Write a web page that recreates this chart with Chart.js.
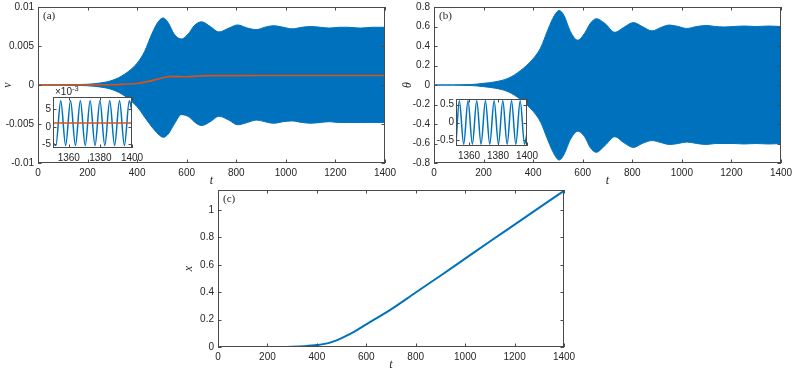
<!DOCTYPE html>
<html>
<head>
<meta charset="utf-8">
<script src="https://cdn.jsdelivr.net/npm/chart.js@4.4.0/dist/chart.umd.min.js"></script>
<style>
  html, body { margin: 0; padding: 0; background: #fff; }
  #wrap { position: relative; width: 793px; height: 375px; overflow: hidden; }
  canvas { position: absolute; }
</style>
</head>
<body>
<div id="wrap">
  <canvas id="cA"></canvas>
  <canvas id="cB"></canvas>
  <canvas id="cC"></canvas>
  <canvas id="iA"></canvas>
  <canvas id="iB"></canvas>
</div>
<script>
// ─── Data ───────────────────────────────────────────────────────────────────
// (a) envelope of the fast oscillation of v, and its slow mean (orange)
const tA     = [0, 150, 200, 250, 300, 350, 400, 430, 460, 485, 505, 525, 550, 578, 610, 630, 660, 695, 730, 770, 805, 845, 880, 915, 950, 990, 1025, 1065, 1100, 1140, 1175, 1215, 1250, 1300, 1350, 1400];
const vUpper = [0, 0.00005, 0.0001, 0.00025, 0.0006, 0.0014, 0.0028, 0.0043, 0.0066, 0.0081, 0.0086, 0.0080, 0.0065, 0.0059, 0.0067, 0.0076, 0.0081, 0.0075, 0.0068, 0.0073, 0.0077, 0.0073, 0.0071, 0.0074, 0.0076, 0.0074, 0.0072, 0.0074, 0.0075, 0.0074, 0.0073, 0.0074, 0.0074, 0.0073, 0.0074, 0.0074];
const vLower = [0, -0.00005, -0.0001, -0.00025, -0.0006, -0.0014, -0.0028, -0.0041, -0.0054, -0.0063, -0.0067, -0.0063, -0.0050, -0.0038, -0.0041, -0.0047, -0.0052, -0.0047, -0.0040, -0.0045, -0.0051, -0.0048, -0.0045, -0.0047, -0.0049, -0.0047, -0.0046, -0.0048, -0.0049, -0.0048, -0.0047, -0.0048, -0.0048, -0.0048, -0.0048, -0.0048];
const tMean  = [0, 300, 350, 400, 450, 500, 540, 600, 650, 700, 800, 1000, 1400];
const vMean  = [0, 0.00003, 0.0001, 0.0002, 0.0005, 0.0009, 0.0011, 0.00105, 0.00115, 0.0012, 0.0012, 0.00122, 0.00122];

// (b) envelope of theta
const tB         = [0, 150, 200, 250, 300, 350, 400, 430, 460, 485, 505, 525, 550, 580, 610, 630, 655, 690, 730, 765, 805, 840, 880, 915, 950, 985, 1020, 1060, 1100, 1135, 1170, 1210, 1250, 1300, 1350, 1400];
const thetaUpper = [0, 0.005, 0.017, 0.034, 0.07, 0.15, 0.27, 0.38, 0.57, 0.71, 0.765, 0.71, 0.55, 0.46, 0.54, 0.63, 0.68, 0.63, 0.54, 0.59, 0.64, 0.60, 0.555, 0.59, 0.615, 0.60, 0.58, 0.60, 0.61, 0.60, 0.595, 0.60, 0.605, 0.60, 0.605, 0.60];
const thetaLower = [0, -0.005, -0.017, -0.034, -0.07, -0.15, -0.27, -0.38, -0.57, -0.71, -0.77, -0.71, -0.56, -0.475, -0.54, -0.64, -0.69, -0.62, -0.53, -0.59, -0.64, -0.60, -0.57, -0.59, -0.61, -0.60, -0.585, -0.60, -0.61, -0.60, -0.60, -0.60, -0.605, -0.60, -0.605, -0.60];

// (c) position x(t)
const tC   = [0, 250, 300, 350, 400, 450, 500, 550, 600, 700, 800, 900, 1000, 1100, 1200, 1300, 1400];
const xPos = [0, 0.0005, 0.002, 0.006, 0.014, 0.03, 0.065, 0.11, 0.165, 0.275, 0.398, 0.52, 0.645, 0.77, 0.893, 1.017, 1.14];

// insets: troughs and peaks of the last cycles (v in units of 1e-3)
const insetAT    = [1350, 1351.8, 1354.9, 1358.0, 1361.1, 1364.2, 1367.3, 1370.4, 1373.5, 1376.6, 1379.7, 1382.8, 1385.9, 1389.0, 1392.1, 1395.2, 1398.3, 1400];
const insetAV    = [-4.5, -5.3, 7.4, -5.3, 7.4, -5.3, 7.4, -5.3, 7.4, -5.3, 7.4, -5.3, 7.4, -5.3, 7.4, -5.3, 7.4, 4.5];
const insetAMeanT = [1350, 1400];
const insetAMean  = [1.1, 1.1];
const insetBT    = [1351, 1353.3, 1356.3, 1359.3, 1362.3, 1365.3, 1368.3, 1371.3, 1374.3, 1377.3, 1380.3, 1383.3, 1386.3, 1389.3, 1392.3, 1395.3, 1398.3, 1400];
const insetBV    = [-0.58, 0.61, -0.61, 0.61, -0.61, 0.61, -0.61, 0.61, -0.61, 0.61, -0.61, 0.61, -0.61, 0.61, -0.61, 0.61, -0.61, -0.3];

// ticks
const tTicks = [0, 200, 400, 600, 800, 1000, 1200, 1400];
const tTickLabels = ['0', '200', '400', '600', '800', '1000', '1200', '1400'];
const vTicks = [-0.01, -0.005, 0, 0.005, 0.01];
const vTickLabels = ['-0.01', '-0.005', '0', '0.005', '0.01'];
const thetaTicks = [-0.8, -0.6, -0.4, -0.2, 0, 0.2, 0.4, 0.6, 0.8];
const thetaTickLabels = ['-0.8', '-0.6', '-0.4', '-0.2', '0', '0.2', '0.4', '0.6', '0.8'];
const xTicks = [0, 0.2, 0.4, 0.6, 0.8, 1];
const xTickLabels = ['0', '0.2', '0.4', '0.6', '0.8', '1'];
const insetTTicks = [1360, 1380, 1400];
const insetTTickLabels = ['1360', '1380', '1400'];
const insetVTicks = [-5, 0, 5];
const insetVTickLabels = ['-5', '0', '5'];
const insetThetaTicks = [-0.5, 0, 0.5];
const insetThetaTickLabels = ['-0.5', '0', '0.5'];

// ─── Style ──────────────────────────────────────────────────────────────────
const BLUE = '#0072BD', ORANGE = '#D95319', INK = '#262626', AXIS = '#4a4a4a';
Chart.defaults.font.family = '"Liberation Sans", Arial, sans-serif';
Chart.defaults.font.size = 10;
Chart.defaults.color = INK;

const pts = (xs, ys) => xs.map((x, i) => ({ x, y: ys[i] }));

// box, inward ticks on all four sides, panel letter and axis titles
function matlabBox(cfg) {
  return {
    id: 'matlabBox',
    beforeDraw(chart) {
      if (!cfg.white) return;
      const a = chart.chartArea, ctx = chart.ctx;
      ctx.save(); ctx.fillStyle = '#fff';
      ctx.fillRect(a.left, a.top, a.right - a.left, a.bottom - a.top);
      ctx.restore();
    },
    afterDraw(chart) {
      const a = chart.chartArea, ctx = chart.ctx;
      const xs = chart.scales.x, ys = chart.scales.y, tl = 3.5;
      ctx.save();
      ctx.strokeStyle = AXIS; ctx.lineWidth = 1;
      ctx.beginPath();
      xs.ticks.forEach(t => {
        const p = Math.round(xs.getPixelForValue(t.value)) + 0.5;
        ctx.moveTo(p, a.bottom); ctx.lineTo(p, a.bottom - tl);
        ctx.moveTo(p, a.top); ctx.lineTo(p, a.top + tl);
      });
      ys.ticks.forEach(t => {
        const p = Math.round(ys.getPixelForValue(t.value)) + 0.5;
        ctx.moveTo(a.left, p); ctx.lineTo(a.left + tl, p);
        ctx.moveTo(a.right, p); ctx.lineTo(a.right - tl, p);
      });
      ctx.stroke();
      ctx.strokeRect(a.left + 0.5, a.top + 0.5, a.right - a.left - 1, a.bottom - a.top - 1);

      ctx.fillStyle = INK;
      if (cfg.letter) {
        ctx.font = '11px "Liberation Serif", serif';
        ctx.textAlign = 'left'; ctx.textBaseline = 'middle';
        ctx.fillText(cfg.letter, a.left + 5, a.top + 9);
      }
      if (cfg.xTitle) {
        ctx.font = 'italic 12px "Liberation Serif", serif';
        ctx.textAlign = 'center'; ctx.textBaseline = 'middle';
        ctx.fillText(cfg.xTitle, (a.left + a.right) / 2, a.bottom + 18);
      }
      if (cfg.yTitle) {
        ctx.font = 'italic 12px "Liberation Serif", serif';
        ctx.translate(a.left - cfg.yTitleDx, (a.top + a.bottom) / 2);
        ctx.rotate(-Math.PI / 2);
        ctx.textAlign = 'center'; ctx.textBaseline = 'middle';
        ctx.fillText(cfg.yTitle, 0, 0);
        ctx.setTransform(1, 0, 0, 1, 0, 0);
      }
      if (cfg.exponent) {
        ctx.textAlign = 'left'; ctx.textBaseline = 'middle';
        ctx.font = '10px "Liberation Sans", Arial, sans-serif';
        ctx.fillText('\u00d710', a.left + 2, a.top - 4.5);
        const w = ctx.measureText('\u00d710').width;
        ctx.font = '7.5px "Liberation Sans", Arial, sans-serif';
        ctx.fillText(cfg.exponent, a.left + 2 + w, a.top - 8.5);
      }
      ctx.restore();
    }
  };
}

function plot(id, box, area, cfg) {
  const cv = document.getElementById(id);
  cv.width = box.w; cv.height = box.h;
  cv.style.left = box.x + 'px'; cv.style.top = box.y + 'px';
  const yw = area.l - box.x, xh = box.y + box.h - area.b;
  const noPad = s => { s.paddingLeft = s.paddingRight = s.paddingTop = s.paddingBottom = 0; };
  return new Chart(cv.getContext('2d'), {
    type: 'line',
    data: { datasets: cfg.datasets },
    options: {
      responsive: false, animation: false, events: [],
      layout: { autoPadding: false, padding: { left: 0, top: area.t - box.y, right: box.x + box.w - area.r, bottom: 0 } },
      elements: { point: { radius: 0 } },
      plugins: { legend: { display: false }, tooltip: { enabled: false } },
      scales: {
        x: {
          type: 'linear', min: cfg.xMin, max: cfg.xMax,
          grid: { display: false, drawTicks: false }, border: { display: false },
          afterBuildTicks: s => { s.ticks = cfg.xTicks.map(v => ({ value: v })); },
          afterFit: s => { s.height = xh; noPad(s); },
          ticks: { autoSkip: false, maxRotation: 0, padding: 4, callback: (v, i) => cfg.xLabels[i] }
        },
        y: {
          type: 'linear', min: cfg.yMin, max: cfg.yMax,
          grid: { display: false, drawTicks: false }, border: { display: false },
          afterBuildTicks: s => { s.ticks = cfg.yTicks.map(v => ({ value: v })); },
          afterFit: s => { s.width = yw; noPad(s); },
          ticks: { autoSkip: false, padding: cfg.yPad || 4, callback: (v, i) => cfg.yLabels[i] }
        }
      }
    },
    plugins: [matlabBox(cfg)]
  });
}

const band = (t, up, lo) => [
  { data: pts(t, up), borderColor: BLUE, borderWidth: 1, backgroundColor: BLUE, fill: '+1', cubicInterpolationMode: 'monotone' },
  { data: pts(t, lo), borderColor: BLUE, borderWidth: 1, fill: false, cubicInterpolationMode: 'monotone' }
];

// (a)
plot('cA', { x: 0, y: 0, w: 398, h: 190 }, { l: 38, t: 7, r: 385, b: 163 }, {
  xMin: 0, xMax: 1400, yMin: -0.01, yMax: 0.01,
  xTicks: tTicks, xLabels: tTickLabels, yTicks: vTicks, yLabels: vTickLabels,
  letter: '(a)', xTitle: 't', yTitle: 'v', yTitleDx: 30,
  datasets: [
    ...band(tA, vUpper, vLower),
    { data: pts(tMean, vMean), borderColor: ORANGE, borderWidth: 1.6, fill: false, cubicInterpolationMode: 'monotone', order: -1 }
  ]
});

// (b)
plot('cB', { x: 398, y: 0, w: 395, h: 190 }, { l: 434, t: 7, r: 781, b: 163 }, {
  xMin: 0, xMax: 1400, yMin: -0.8, yMax: 0.8,
  xTicks: tTicks, xLabels: tTickLabels, yTicks: thetaTicks, yLabels: thetaTickLabels,
  letter: '(b)', xTitle: 't', yTitle: '\u03b8', yTitleDx: 26,
  datasets: band(tB, thetaUpper, thetaLower)
});

// (c)
plot('cC', { x: 180, y: 180, w: 400, h: 195 }, { l: 218, t: 190, r: 564, b: 347 }, {
  xMin: 0, xMax: 1400, yMin: 0, yMax: 1.146,
  xTicks: tTicks, xLabels: tTickLabels, yTicks: xTicks, yLabels: xTickLabels,
  letter: '(c)', xTitle: 't', yTitle: 'x', yTitleDx: 29.5,
  datasets: [{ data: pts(tC, xPos), borderColor: BLUE, borderWidth: 2, fill: false, cubicInterpolationMode: 'monotone' }]
});

// inset of (a)
plot('iA', { x: 30, y: 80, w: 114, h: 84 }, { l: 53, t: 97, r: 132, b: 148 }, {
  xMin: 1350, xMax: 1400, yMin: -6, yMax: 8.5,
  xTicks: insetTTicks, xLabels: insetTTickLabels, yTicks: insetVTicks, yLabels: insetVTickLabels,
  white: true, exponent: '-3', yPad: 2,
  datasets: [
    { data: pts(insetAMeanT, insetAMean), borderColor: ORANGE, borderWidth: 1.6, fill: false },
    { data: pts(insetAT, insetAV), borderColor: BLUE, borderWidth: 1.5, fill: false, cubicInterpolationMode: 'monotone' }
  ]
});

// inset of (b)
plot('iB', { x: 420, y: 88, w: 118, h: 76 }, { l: 456, t: 99, r: 527, b: 146 }, {
  xMin: 1351, xMax: 1400, yMin: -0.66, yMax: 0.66,
  xTicks: insetTTicks, xLabels: insetTTickLabels, yTicks: insetThetaTicks, yLabels: insetThetaTickLabels,
  white: true, yPad: 2,
  datasets: [
    { data: pts(insetBT, insetBV), borderColor: BLUE, borderWidth: 1.5, fill: false, cubicInterpolationMode: 'monotone' }
  ]
});
</script>
</body>
</html>
